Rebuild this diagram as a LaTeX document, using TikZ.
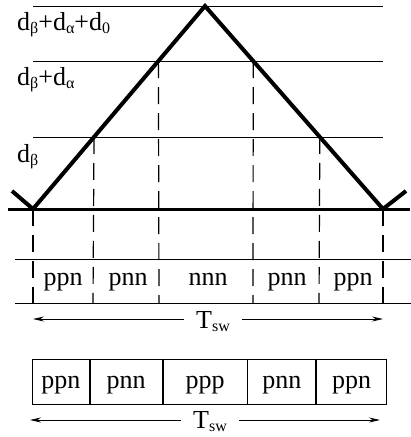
\documentclass[tikz,border=0pt]{standalone}
\usepackage{fontspec}
\setmainfont{Liberation Serif}
\usetikzlibrary{arrows.meta,calc}

\newcommand{\lowidx}[1]{\raisebox{-0.15em}{\fontsize{16}{16}\selectfont #1}}

\tikzset{
  lbl/.style={font=\fontsize{26}{29}\selectfont, inner sep=0pt},
  cell/.style={draw, line width=0.8pt, minimum height=45pt, inner sep=0pt,
    text height=17pt, text depth=4pt, font=\fontsize{26}{29}\selectfont},
  guide/.style={line width=0.8pt},
  cut/.style={line width=1.2pt, dash pattern={on 17pt off 9pt}},
  span/.style={line width=0.8pt, -{Stealth[length=11pt,width=5pt]}}
}

\begin{document}
\begin{tikzpicture}[x=1pt,y=-1pt]
\useasboundingbox (0,0) rectangle (411,437);

% Carrier and crossing points
\coordinate (b0) at (33,209);
\coordinate (top) at (205,6);
\coordinate (b1) at (383,209);
\coordinate (p1) at ($(b0)!0.3547!(top)$);
\coordinate (p2) at ($(b0)!0.729!(top)$);
\coordinate (p3) at ($(b1)!0.729!(top)$);
\coordinate (p4) at ($(b1)!0.3547!(top)$);

% --- Levels ---
\draw[guide] (33,6) -- (383,6);
\draw[guide] (33,61) -- (383,61);
\draw[guide] (33,137) -- (383,137);
\node[lbl, anchor=base west] (lv3) at (17,30) {d\lowidx{β}+d\lowidx{α}+d\lowidx{0}};
\node[lbl, anchor=base west] (lv2) at (17,85) {d\lowidx{β}+d\lowidx{α}};
\node[lbl, anchor=base west] (lv1) at (17,162) {d\lowidx{β}};

% --- Triangle ---
\draw[line width=3pt] (8,209) -- (410,209);
\draw[line width=4pt, line join=miter] (12,191) -- (b0) -- (top) -- (b1) -- (406,191);

% --- Switching instants ---
\draw[cut] (b0) -- (33,312);
\draw[cut] (p1) -- (93,303);
\draw[cut] (p2) -- (159,303);
\draw[cut] (p3) -- (253,303);
\draw[cut] (p4) -- (319,303);
\draw[cut] (b1) -- (383,312);

% --- Upper row of states ---
\draw[guide] (15,259) -- (411,259);
\draw[guide] (15,303) -- (411,303);
\node[lbl, anchor=base] (u1) at (63,285) {ppn};
\node[lbl, anchor=base] (u2) at (128,285) {pnn};
\node[lbl, anchor=base] (u3) at (208,285) {nnn};
\node[lbl, anchor=base] (u4) at (287,285) {pnn};
\node[lbl, anchor=base] (u5) at (353,285) {ppn};

\node[lbl, anchor=base, inner xsep=12pt] (tsw1) at (213,328) {T\lowidx{sw}};
\coordinate (a0) at (33,319);
\coordinate (a1) at (383,319);
\draw[span] (tsw1.west |- a0) -- (a0);
\draw[span] (tsw1.east |- a1) -- (a1);

% --- Lower row of states ---
\node[cell, minimum width=57pt, anchor=north west] (c1) at (32,359) {ppn};
\node[cell, minimum width=72pt, anchor=north west] (c2) at (c1.north east) {pnn};
\node[cell, minimum width=84pt, anchor=north west] (c3) at (c2.north east) {ppp};
\node[cell, minimum width=68pt, anchor=north west] (c4) at (c3.north east) {pnn};
\node[cell, minimum width=70pt, anchor=north west] (c5) at (c4.north east) {ppn};

\node[lbl, anchor=base, inner xsep=12pt] (tsw2) at (210,428) {T\lowidx{sw}};
\coordinate (e0) at (30,420);
\coordinate (e1) at (380,420);
\draw[span] (tsw2.west |- e0) -- (e0);
\draw[span] (tsw2.east |- e1) -- (e1);

\end{tikzpicture}
\end{document}
